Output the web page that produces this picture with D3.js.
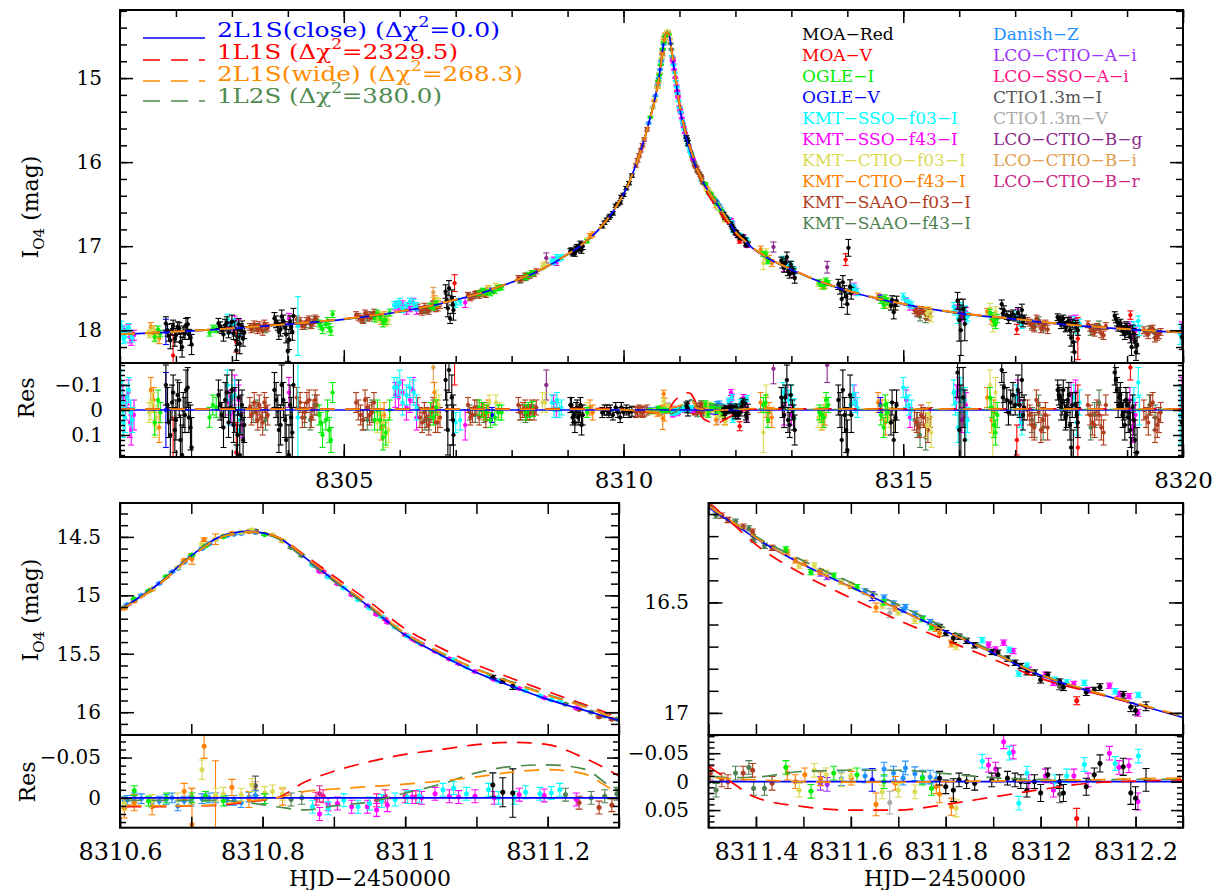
<!DOCTYPE html>
<html><head><meta charset="utf-8">
<script src="https://cdn.jsdelivr.net/npm/d3@7/dist/d3.min.js"></script>
<style>html,body{margin:0;padding:0;background:#fff}svg{display:block}</style>
</head><body>
<svg id="chart" width="1215" height="890" xmlns="http://www.w3.org/2000/svg"></svg>
<script>
// ================= DATA =================
const modelT = [8301,8302,8303,8304,8305,8306,8306.5,8307,8307.5,8308,8308.5,8309,8309.3,8309.6,8309.8,8310,8310.1,8310.2,8310.3,8310.4,8310.5,8310.6,8310.65,8310.7,8310.74,8310.78,8310.82,8310.86,8310.9,8310.95,8311,8311.05,8311.1,8311.15,8311.2,8311.25,8311.3,8311.35,8311.4,8311.5,8311.6,8311.7,8311.8,8311.9,8312,8312.1,8312.2,8312.3,8312.6,8313,8313.5,8314,8314.5,8315,8315.5,8316,8317,8318,8319,8320];
const model2L1Sclose = [18.05,18.02,17.98,17.93,17.87,17.78,17.72,17.64,17.55,17.43,17.29,17.10,16.96,16.77,16.60,16.38,16.24,16.07,15.88,15.66,15.41,15.12,14.92,14.66,14.50,14.453,14.50,14.68,14.87,15.10,15.34,15.51,15.66,15.78,15.89,15.98,16.07,16.14,16.21,16.33,16.43,16.53,16.63,16.73,16.83,16.90,16.96,17.02,17.15,17.28,17.42,17.53,17.62,17.69,17.75,17.80,17.87,17.94,17.99,18.03];
const model1L1S = [18.046,18.016,17.976,17.926,17.866,17.776,17.716,17.636,17.546,17.425,17.285,17.094,16.954,16.764,16.595,16.378,16.24,16.073,15.886,15.669,15.421,15.131,14.931,14.67,14.509,14.458,14.50,14.66,14.837,15.055,15.286,15.45,15.594,15.711,15.824,15.93,16.043,16.142,16.238,16.374,16.48,16.58,16.67,16.757,16.844,16.903,16.959,17.017,17.146,17.275,17.415,17.525,17.615,17.685,17.745,17.795,17.865,17.935,17.985,18.025];
const model2L1Swide = [18.047,18.017,17.977,17.927,17.867,17.777,17.717,17.637,17.547,17.427,17.287,17.097,16.957,16.768,16.598,16.379,16.24,16.072,15.884,15.666,15.418,15.129,14.93,14.67,14.508,14.457,14.50,14.672,14.859,15.086,15.323,15.489,15.634,15.748,15.855,15.95,16.062,16.135,16.207,16.33,16.431,16.531,16.63,16.729,16.828,16.897,16.955,17.014,17.145,17.276,17.416,17.526,17.616,17.686,17.746,17.796,17.866,17.936,17.986,18.026];
const model1L2S = [18.048,18.018,17.978,17.928,17.868,17.778,17.718,17.638,17.548,17.428,17.288,17.098,16.958,16.768,16.598,16.379,16.24,16.071,15.882,15.662,15.413,15.123,14.923,14.663,14.503,14.459,14.511,14.695,14.88,15.105,15.334,15.493,15.629,15.742,15.849,15.944,16.06,16.133,16.202,16.312,16.41,16.51,16.616,16.723,16.826,16.897,16.956,17.016,17.147,17.278,17.418,17.528,17.618,17.688,17.748,17.798,17.868,17.938,17.988,18.028];
const res2L1Sclose = [0,0,0,0,0,0,0,0,0,0,0,0,0,0,0,0,0,0,0,0,0,0,0,0,0,0,0,0,0,0,0,0,0,0,0,0,0,0,0,0,0,0,0,0,0,0,0,0,0,0,0,0,0,0,0,0,0,0,0,0];
const res1L1S = [-0.004,-0.004,-0.004,-0.004,-0.004,-0.004,-0.004,-0.004,-0.004,-0.005,-0.005,-0.006,-0.006,-0.006,-0.005,-0.002,0,0.003,0.006,0.009,0.011,0.011,0.011,0.010,0.009,0.005,0,-0.020,-0.033,-0.045,-0.054,-0.060,-0.066,-0.069,-0.066,-0.050,-0.027,0.002,0.028,0.044,0.050,0.050,0.040,0.027,0.014,0.003,-0.001,-0.003,-0.004,-0.005,-0.005,-0.005,-0.005,-0.005,-0.005,-0.005,-0.005,-0.005,-0.005,-0.005];
const res2L1Swide = [-0.003,-0.003,-0.003,-0.003,-0.003,-0.003,-0.003,-0.003,-0.003,-0.003,-0.003,-0.003,-0.003,-0.002,-0.002,-0.001,0,0.002,0.004,0.006,0.008,0.009,0.010,0.010,0.008,0.004,0,-0.008,-0.011,-0.014,-0.017,-0.021,-0.026,-0.032,-0.035,-0.030,-0.008,-0.005,-0.003,0,0.001,0.001,0,-0.001,-0.002,-0.003,-0.005,-0.006,-0.005,-0.004,-0.004,-0.004,-0.004,-0.004,-0.004,-0.004,-0.004,-0.004,-0.004,-0.004];
const res1L2S = [-0.002,-0.002,-0.002,-0.002,-0.002,-0.002,-0.002,-0.002,-0.002,-0.002,-0.002,-0.002,-0.002,-0.002,-0.002,-0.001,0,0.001,0.002,0.002,0.003,0.003,0.003,0.003,0.003,0.006,0.011,0.015,0.010,0.005,-0.006,-0.017,-0.031,-0.039,-0.041,-0.036,-0.010,-0.007,-0.008,-0.018,-0.020,-0.020,-0.014,-0.007,-0.004,-0.003,-0.004,-0.004,-0.003,-0.002,-0.002,-0.002,-0.002,-0.002,-0.002,-0.002,-0.002,-0.002,-0.002,-0.002];
const modelNames = ["2L1S(close)","1L1S","2L1S(wide)","1L2S"];
const modelDchi2 = ["0.0","2329.5","268.3","380.0"];
const modelColors = ["#0000ff","#ff0000","#ff8c00","#4f8a4f"];

const datasetNames = ["MOA−Red","MOA−V","OGLE−I","OGLE−V","KMT−SSO−f03−I","KMT−SSO−f43−I","KMT−CTIO−f03−I","KMT−CTIO−f43−I","KMT−SAAO−f03−I","KMT−SAAO−f43−I","Danish−Z","LCO−CTIO−A−i","LCO−SSO−A−i","CTIO1.3m−I","CTIO1.3m−V","LCO−CTIO−B−g","LCO−CTIO−B−i","LCO−CTIO−B−r"];
const datasetColors = ["#000000","#ff0000","#00ee00","#0000ff","#00ffff","#ff00ff","#dada55","#ff7f00","#b03c1e","#4e7f50","#1e90ff","#9b30ff","#ff1487","#555555","#aaaaaa","#8b2a8b","#e0a050","#cd2a88"];

// each point: [HJD-2450000, magnitude, error, residual]
const moaRed = [[8301.82,17.92,0.08,-0.10],[8301.87,18.07,0.06,0.05],[8301.93,17.99,0.07,-0.03],[8301.98,18.10,0.09,0.08],[8302.03,17.96,0.06,-0.06],[8302.08,18.14,0.10,0.12],[8302.13,18.02,0.07,0.00],[8302.18,17.94,0.08,-0.08],[8302.23,18.05,0.06,0.03],[8302.28,18.17,0.12,0.15],
[8301.85,18.00,0.07,-0.02],[8301.90,18.12,0.10,0.10],[8301.95,17.95,0.07,-0.07],[8302.00,18.06,0.08,0.04],[8302.06,17.98,0.07,-0.04],[8302.11,18.20,0.12,0.18],[8302.16,18.04,0.07,0.02],[8302.21,17.93,0.08,-0.09],[8302.26,18.09,0.09,0.07],
[8302.76,17.92,0.06,-0.06],[8302.82,17.99,0.05,0.02],[8302.88,17.94,0.07,-0.04],[8302.94,18.03,0.06,0.05],[8303.00,17.90,0.08,-0.08],[8303.05,17.98,0.09,0.00],[8303.10,18.08,0.10,0.10],[8303.14,18.16,0.12,0.18],[8303.18,17.95,0.06,-0.02],[8303.22,18.03,0.07,0.06],
[8302.79,17.96,0.06,-0.02],[8302.85,18.05,0.08,0.07],[8302.91,17.91,0.07,-0.07],[8302.97,17.97,0.06,-0.01],[8303.03,18.04,0.07,0.06],[8303.08,18.24,0.12,0.26],[8303.12,17.93,0.07,-0.05],[8303.16,18.00,0.08,0.02],[8303.20,18.10,0.09,0.12],
[8303.76,17.86,0.07,-0.08],[8303.82,17.94,0.06,0.00],[8303.87,17.99,0.08,0.06],[8303.92,17.89,0.07,-0.04],[8303.97,18.05,0.10,0.12],[8304.02,18.11,0.12,0.18],[8304.06,17.96,0.08,0.03],[8304.10,17.83,0.09,-0.10],
[8303.79,17.90,0.07,-0.04],[8303.84,18.02,0.09,0.08],[8303.89,17.84,0.08,-0.10],[8303.95,17.97,0.07,0.04],[8304.00,18.25,0.12,0.32],[8304.04,17.91,0.08,-0.02],[8304.08,18.02,0.10,0.09],
[8306.82,17.54,0.08,-0.12],[8306.86,17.74,0.10,0.08],[8306.90,17.86,0.06,0.20],[8306.93,17.61,0.09,-0.05],[8306.96,17.76,0.12,0.10],[8306.84,17.65,0.08,0.00],[8306.88,17.50,0.09,-0.16],[8306.95,17.70,0.10,0.04],
[8309.05,17.06,0.03,-0.02],[8309.09,17.085,0.03,0.03],[8309.13,17.08,0.04,0.05],[8309.17,17.01,0.03,-0.01],[8309.21,17.02,0.03,0.02],[8309.25,17.045,0.04,0.06],
[8309.07,17.05,0.03,-0.02],[8309.11,17.07,0.03,0.02],[8309.15,17.03,0.03,0.00],[8309.19,17.04,0.03,0.03],[8309.23,16.97,0.03,-0.02],[8309.27,17.00,0.04,0.02],
[8309.62,16.763,0.02,0.01],[8309.66,16.72,0.02,0.00],[8309.70,16.685,0.02,0.00],[8309.74,16.66,0.02,0.01],
[8309.76,16.64,0.02,0.00],[8309.81,16.61,0.02,0.02],[8309.86,16.52,0.02,-0.01],[8309.90,16.50,0.02,0.01],[8309.94,16.48,0.02,0.03],
[8309.96,16.414,0.02,-0.01],[8310.00,16.39,0.02,0.01],[8310.05,16.31,0.02,0.00],[8310.10,16.25,0.02,0.01],[8310.15,16.16,0.02,0.005],
[8311.123,15.70,0.015,-0.016],[8311.137,15.735,0.018,-0.007],[8311.151,15.775,0.03,-0.006],
[8311.787,16.611,0.012,-0.006],[8311.800,16.639,0.012,0.009],[8311.816,16.661,0.02,0.015],[8311.828,16.655,0.012,-0.003],[8311.844,16.674,0.012,0.000],[8311.861,16.694,0.012,0.003],[8311.897,16.724,0.012,-0.003],[8311.910,16.728,0.012,-0.012],[8311.930,16.754,0.012,-0.006],[8311.946,16.773,0.012,-0.003],[8311.958,16.788,0.012,0.000],[8311.971,16.816,0.012,0.015],[8311.987,16.817,0.012,0.000],[8312.000,16.85,0.015,0.020],[8312.015,16.828,0.012,-0.012],[8312.040,16.858,0.012,0.000],[8312.048,16.884,0.015,0.020],[8312.096,16.906,0.015,0.009],[8312.113,16.896,0.012,-0.012],[8312.125,16.883,0.015,-0.032],[8312.174,16.918,0.015,-0.026],[8312.190,16.974,0.02,0.020],[8312.200,16.989,0.02,0.029],[8312.222,16.97,0.02,-0.003],
[8312.82,17.17,0.04,-0.05],[8312.87,17.26,0.05,0.02],[8312.92,17.13,0.06,-0.12],[8312.97,17.33,0.05,0.06],[8313.02,17.285,0.04,0.00],[8313.06,17.38,0.06,0.08],
[8312.84,17.22,0.04,-0.01],[8312.89,17.20,0.05,-0.05],[8312.94,17.30,0.05,0.04],[8312.99,17.22,0.04,-0.06],[8313.04,17.32,0.05,0.03],
[8313.84,17.455,0.06,-0.04],[8313.90,17.63,0.10,0.12],[8313.95,17.54,0.07,0.02],[8314.00,17.69,0.12,0.16],[8314.02,17.02,0.10,-0.51],[8314.05,17.48,0.08,-0.06],
[8313.87,17.50,0.07,0.00],[8313.92,17.43,0.08,-0.08],[8313.98,17.60,0.09,0.08],[8314.07,17.56,0.07,0.02],
[8314.78,17.71,0.05,0.05],[8314.83,17.785,0.08,0.12],[8314.88,17.655,0.06,-0.02],[8314.80,17.64,0.05,-0.03],[8314.86,17.70,0.06,0.03],
[8315.97,17.65,0.10,-0.15],[8316.00,17.88,0.25,0.08],[8316.03,18.00,0.30,0.20],[8316.07,17.75,0.12,-0.05],[8316.10,17.925,0.20,0.12],
[8316.76,17.69,0.05,-0.16],[8316.80,17.77,0.06,-0.09],[8316.85,17.82,0.05,-0.04],[8316.92,17.83,0.05,-0.03],[8317.00,17.85,0.04,-0.02],[8317.05,17.79,0.06,-0.08],[8317.12,17.76,0.07,-0.12],[8317.16,17.87,0.05,-0.01],
[8316.78,17.80,0.05,-0.05],[8316.88,17.87,0.05,0.01],[8316.96,17.81,0.05,-0.06],[8317.08,17.86,0.05,-0.02],[8317.14,17.90,0.06,0.02],
[8317.76,17.845,0.04,-0.08],[8317.80,17.88,0.04,-0.05],[8317.84,17.90,0.05,-0.03],[8317.88,17.935,0.04,0.00],[8317.92,17.955,0.05,0.02],[8317.96,17.895,0.05,-0.06],[8318.00,18.09,0.10,0.15],[8318.04,18.14,0.12,0.20],[8318.08,17.935,0.05,-0.02],[8318.12,18.00,0.06,0.05],
[8317.78,17.87,0.04,-0.06],[8317.82,17.93,0.05,-0.01],[8317.86,17.86,0.04,-0.08],[8317.90,17.97,0.05,0.03],[8317.94,17.90,0.05,-0.04],[8317.98,18.00,0.06,0.06],[8318.02,17.92,0.05,-0.02],[8318.06,18.26,0.12,0.32],[8318.10,17.96,0.05,0.02],
[8318.78,17.83,0.05,-0.15],[8318.82,17.90,0.05,-0.08],[8318.86,17.93,0.04,-0.05],[8318.90,17.965,0.05,-0.02],[8318.94,17.985,0.04,0.00],[8318.98,17.95,0.05,-0.04],[8319.02,18.025,0.06,0.03],[8319.06,18.08,0.07,0.08],[8319.10,17.99,0.05,-0.01],[8319.14,18.13,0.08,0.12],[8319.18,18.18,0.10,0.17],
[8318.80,17.86,0.05,-0.12],[8318.84,17.96,0.05,-0.02],[8318.88,17.92,0.05,-0.06],[8318.92,18.01,0.05,0.02],[8318.96,18.05,0.06,0.06],[8319.00,17.97,0.05,-0.02],[8319.04,18.00,0.05,0.01],[8319.08,18.20,0.10,0.21],[8319.12,18.04,0.06,0.04],[8319.16,18.26,0.10,0.27],
[8319.98,18.08,0.15,0.05]];
const moaV = [[8301.95,18.30,0.25,0.28],[8303.08,18.14,0.12,0.17],[8306.98,17.44,0.10,-0.20],[8312.076,16.945,0.018,0.065],[8313.97,17.16,0.07,-0.36],[8317.03,17.99,0.06,0.12],[8318.12,18.10,0.25,0.15],[8319.06,17.82,0.05,-0.17]];
const ogleI = [[8301.68,17.99,0.04,-0.04],[8301.72,18.04,0.04,0.01],[8301.62,18.08,0.05,0.05],[8302.60,18.03,0.04,0.03],[8302.66,17.98,0.04,-0.02],[8302.72,17.99,0.04,-0.01],[8304.56,17.92,0.04,0.02],[8304.59,17.95,0.04,0.05],[8304.62,17.99,0.05,0.10],[8304.68,17.93,0.04,0.04],[8304.71,17.89,0.04,0.00],[8304.74,17.97,0.05,0.08],[8304.77,18.01,0.05,0.12],[8304.80,17.81,0.04,-0.07],[8305.55,17.86,0.04,0.04],[8305.60,17.80,0.04,0.00],[8305.65,17.84,0.04,0.04],[8305.70,17.91,0.05,0.11],[8305.75,17.88,0.05,0.09],[8305.82,17.79,0.04,0.00],[8306.55,17.71,0.03,0.00],[8306.60,17.73,0.03,0.03],[8306.65,17.68,0.03,-0.01],[8307.42,17.56,0.03,-0.01],[8307.48,17.53,0.03,0.00],[8307.55,17.55,0.03,0.01],[8307.62,17.56,0.03,0.04],[8307.70,17.53,0.03,0.03],[8307.76,17.50,0.03,0.01],[8307.82,17.49,0.03,0.01],[8308.25,17.37,0.03,0.01],[8308.30,17.34,0.03,0.00],[8308.38,17.32,0.03,-0.004],[8309.35,16.94,0.02,0.01],[8310.48,15.465,0.01,0.005],
[8310.620,15.03,0.006,-0.009],[8310.640,14.964,0.006,0.004],[8310.665,14.84,0.006,0.000],[8310.701,14.655,0.006,0.000],[8310.720,14.578,0.006,-0.002],[8310.745,14.50,0.006,0.004],[8310.803,14.48,0.006,0.001],
[8311.463,16.26,0.012,-0.025],[8311.516,16.363,0.012,0.017],[8311.564,16.379,0.012,-0.015],[8311.613,16.431,0.012,-0.012],[8311.670,16.50,0.012,0.000],[8311.751,16.575,0.012,-0.006],[8311.770,16.612,0.012,0.012],
[8312.50,17.09,0.03,-0.02],[8312.54,17.10,0.03,-0.03],[8312.58,17.18,0.03,0.04],[8313.50,17.43,0.03,0.01],[8313.54,17.45,0.03,0.02],[8313.58,17.47,0.04,0.03],[8313.62,17.41,0.03,-0.04],[8313.66,17.44,0.03,-0.02],[8314.60,17.64,0.04,0.02],[8314.65,17.70,0.04,0.07],[8314.68,17.62,0.04,-0.02],[8314.72,17.66,0.04,0.01],[8316.55,17.79,0.04,-0.05],[8316.58,17.83,0.04,-0.01],[8316.62,17.90,0.05,0.06],[8316.65,17.93,0.05,0.09],[8316.68,17.86,0.05,0.02]];
const ogleV = [[8301.82,18.02,0.15,0.00],[8307.65,17.53,0.03,0.02],[8311.645,16.472,0.02,-0.003],[8314.59,17.61,0.03,-0.02]];
const kmtSSOf03 = [[8301.02,17.94,0.05,-0.11],[8301.04,18.02,0.05,-0.03],[8301.06,18.10,0.06,0.05],[8301.09,18.08,0.06,0.03],[8301.12,18.00,0.05,-0.05],[8301.16,17.97,0.05,-0.08],[8301.19,18.05,0.05,0.01],[8301.22,18.09,0.05,0.04],
[8302.92,17.87,0.06,-0.10],[8302.96,17.99,0.05,0.01],[8303.00,17.93,0.05,-0.05],[8303.05,17.92,0.06,-0.06],[8303.10,18.05,0.06,0.08],[8303.14,18.01,0.05,0.04],[8304.18,17.95,0.35,0.03],
[8305.90,17.70,0.04,-0.09],[8305.95,17.69,0.04,-0.09],[8306.00,17.67,0.05,-0.11],[8306.05,17.74,0.05,-0.03],[8306.12,17.71,0.04,-0.06],[8306.18,17.66,0.04,-0.09],[8306.25,17.68,0.05,-0.07],[8306.30,17.72,0.05,-0.01],[8307.00,17.69,0.04,0.05],[8307.08,17.66,0.04,0.04],[8308.72,17.18,0.03,-0.03],[8308.76,17.19,0.03,0.00],[8308.81,17.13,0.03,-0.04],[8308.85,17.15,0.03,0.00],[8308.89,17.13,0.03,-0.01],
[8310.870,14.74,0.008,0.011],[8310.892,14.843,0.008,0.013],[8310.914,14.937,0.008,0.003],[8310.934,15.037,0.008,0.011],[8310.950,15.107,0.008,0.007],[8310.967,15.184,0.008,0.004],[8310.986,15.272,0.008,0.002],[8311.003,15.349,0.008,-0.001],[8311.020,15.406,0.008,-0.002],[8311.053,15.51,0.008,-0.010],[8311.068,15.552,0.008,-0.012],[8311.086,15.613,0.008,-0.005],[8311.117,15.69,0.008,-0.010],[8311.131,15.734,0.008,0.000],[8311.153,15.787,0.008,0.000],[8311.169,15.815,0.008,-0.007],[8311.189,15.861,0.008,-0.005],[8311.205,15.894,0.008,-0.006],[8311.217,15.91,0.008,-0.010],
[8311.877,16.671,0.012,-0.036],[8311.934,16.714,0.012,-0.050],[8311.954,16.822,0.012,0.038],[8311.971,16.786,0.012,-0.015],[8312.030,16.85,0.012,0.000],[8312.055,16.862,0.012,-0.010],[8312.092,16.864,0.012,-0.030],[8312.157,16.902,0.012,-0.032],[8312.206,16.919,0.012,-0.045],
[8312.85,17.16,0.04,-0.07],[8312.88,17.19,0.04,-0.05],[8312.95,17.23,0.04,-0.04],[8313.00,17.22,0.04,-0.06],[8313.05,17.29,0.04,-0.005],[8314.06,17.52,0.04,-0.02],[8314.10,17.49,0.04,-0.06],[8314.14,17.51,0.04,-0.03],[8314.18,17.55,0.04,-0.01],[8315.00,17.60,0.04,-0.09],[8315.05,17.65,0.04,-0.05],[8315.10,17.68,0.04,-0.02],[8315.15,17.70,0.04,0.00],[8315.90,17.72,0.05,-0.07],[8315.93,17.77,0.05,-0.03],[8315.98,17.86,0.06,0.07],[8316.03,17.72,0.05,-0.08],[8316.10,17.76,0.05,-0.04],[8316.12,17.86,0.06,0.06],[8316.15,17.84,0.05,0.04],[8317.02,17.82,0.05,-0.05],[8317.08,17.90,0.05,0.02],[8317.12,17.93,0.05,0.05],[8318.05,17.89,0.05,-0.05],[8318.10,17.99,0.05,0.05],[8318.15,17.92,0.05,-0.03],[8319.12,17.95,0.05,-0.04],[8319.20,17.89,0.06,-0.11],[8319.22,18.00,0.06,0.00],[8319.95,18.05,0.12,0.02]];
const kmtSSOf43 = [[8301.05,18.00,0.05,-0.05],[8301.10,18.03,0.05,-0.01],[8301.15,17.98,0.05,-0.07],[8301.18,18.09,0.06,0.05],[8301.20,18.12,0.06,0.08],[8301.25,18.06,0.06,0.02],
[8302.95,17.95,0.05,-0.03],[8303.00,17.99,0.05,0.01],[8303.05,17.89,0.06,-0.08],[8303.12,17.93,0.06,-0.04],[8303.18,18.02,0.05,0.06],[8304.02,17.86,0.06,-0.07],
[8305.92,17.71,0.05,-0.06],[8305.98,17.73,0.05,-0.05],[8306.05,17.70,0.05,-0.07],[8306.12,17.76,0.05,-0.01],[8306.18,17.73,0.05,-0.04],[8306.24,17.67,0.05,-0.08],[8306.30,17.76,0.05,0.03],[8307.17,17.67,0.06,0.06],[8308.75,17.16,0.03,-0.03],[8308.80,17.20,0.03,0.00],
[8310.880,14.795,0.008,0.020],[8310.892,14.838,0.008,0.008],[8310.905,14.90,0.008,0.007],[8310.925,14.995,0.008,0.011],[8310.947,15.09,0.008,0.011],[8310.960,15.163,0.008,0.015],[8310.975,15.23,0.008,0.009],[8311.010,15.373,0.008,-0.001],[8311.023,15.418,0.008,0.000],[8311.042,15.478,0.008,-0.005],[8311.062,15.544,0.008,-0.002],[8311.075,15.583,0.008,-0.001],[8311.098,15.652,0.008,-0.002],[8311.125,15.72,0.008,0.000],[8311.160,15.798,0.008,-0.004],[8311.195,15.876,0.008,-0.003],[8311.240,15.964,0.008,0.002],
[8311.890,16.691,0.012,-0.029],[8311.905,16.713,0.012,-0.022],[8311.922,16.682,0.012,-0.070],[8311.942,16.72,0.012,-0.052],[8311.975,16.805,0.012,0.000],[8312.010,16.827,0.012,-0.010],[8312.027,16.864,0.012,0.015],[8312.070,16.869,0.012,-0.010],[8312.100,16.897,0.012,-0.003],[8312.145,16.877,0.012,-0.050],[8312.165,16.914,0.012,-0.025],[8312.186,16.924,0.012,-0.028],[8312.205,17.00,0.015,0.035],
[8312.87,17.26,0.04,0.02],[8312.90,17.21,0.04,-0.05],[8313.00,17.30,0.04,0.02],[8314.12,17.48,0.04,-0.06],[8314.15,17.54,0.04,-0.03],[8315.05,17.66,0.04,-0.04],[8315.12,17.72,0.04,0.03],[8315.95,17.75,0.05,-0.05],[8316.00,17.72,0.05,-0.08],[8316.05,17.84,0.05,0.04],[8316.12,17.78,0.05,-0.02],[8317.05,17.80,0.05,-0.07],[8317.10,17.88,0.05,0.01],[8318.00,17.88,0.05,-0.06],[8318.08,17.87,0.05,-0.07],[8319.05,17.95,0.05,-0.04],[8319.10,18.06,0.06,0.07],[8319.15,18.01,0.05,0.02],[8319.98,17.98,0.08,-0.05]];
const kmtCTIOf03 = [[8301.52,18.05,0.04,0.01],[8301.55,18.03,0.04,0.00],[8301.58,18.00,0.04,-0.03],[8301.62,18.09,0.05,0.06],[8301.65,18.06,0.05,0.03],[8305.60,17.87,0.04,0.05],[8305.65,17.82,0.04,0.01],[8305.70,17.86,0.04,0.05],[8305.75,17.90,0.05,0.10],[8305.80,17.88,0.05,0.08],[8306.65,17.65,0.04,-0.04],[8306.70,17.66,0.04,-0.02],[8307.60,17.50,0.03,-0.03],[8307.65,17.54,0.03,0.02],[8307.72,17.47,0.03,-0.03],[8307.78,17.49,0.03,0.00],[8308.55,17.24,0.04,-0.03],[8308.60,17.22,0.04,-0.03],[8309.35,16.93,0.03,0.00],[8310.52,15.355,0.01,0.003],[8310.56,15.245,0.01,0.005],
[8310.606,15.103,0.008,0.007],[8310.645,14.944,0.008,0.004],[8310.681,14.761,0.008,0.002],[8310.715,14.565,0.012,-0.035],[8310.734,14.52,0.008,-0.004],[8310.745,14.49,0.008,-0.005],[8310.770,14.461,0.008,-0.004],[8310.785,14.44,0.008,-0.016],[8310.803,14.474,0.008,-0.006],[8310.814,14.482,0.008,-0.008],[8310.828,14.531,0.008,-0.005],
[8311.491,16.334,0.012,0.015],[8311.523,16.333,0.012,-0.020],[8311.548,16.366,0.012,-0.012],[8311.580,16.407,0.012,-0.003],[8311.600,16.42,0.012,-0.010],[8311.666,16.514,0.012,0.018],[8311.700,16.545,0.012,0.015],[8311.735,16.583,0.012,0.018],[8311.822,16.699,0.015,0.047],
[8312.50,17.20,0.08,0.09],[8312.55,17.07,0.04,-0.06],[8313.48,17.44,0.04,0.03],[8313.53,17.47,0.04,0.04],[8313.60,17.43,0.04,-0.01],[8314.70,17.65,0.04,0.00],[8314.75,17.69,0.04,0.03],[8314.85,17.71,0.05,0.04],[8315.42,17.80,0.05,0.06],[8315.46,17.77,0.05,0.02],[8315.50,17.84,0.06,0.09],[8316.55,17.74,0.06,-0.10],[8316.60,17.92,0.10,0.09],[8316.65,17.78,0.06,-0.07]];
const kmtCTIOf43 = [[8301.55,17.96,0.05,-0.08],[8301.60,18.00,0.05,-0.04],[8301.70,18.10,0.06,0.07],[8305.67,17.88,0.05,0.07],[8305.72,17.83,0.05,0.02],[8306.62,17.63,0.04,-0.07],[8306.68,17.69,0.04,0.00],[8307.50,17.56,0.03,0.01],[8307.58,17.50,0.03,-0.01],[8309.40,16.88,0.03,-0.01],[8309.45,16.86,0.03,0.01],[8310.55,15.27,0.01,0.005],
[8310.606,15.11,0.012,0.013],[8310.620,15.05,0.01,0.006],[8310.645,14.95,0.01,0.011],[8310.690,14.70,0.01,-0.008],[8310.701,14.69,0.045,0.033],[8310.718,14.524,0.015,-0.064],[8310.734,14.52,0.045,-0.001],[8310.757,14.47,0.01,-0.013],[8310.781,14.455,0.01,0.002],[8310.828,14.535,0.01,-0.001],
[8311.466,16.274,0.012,-0.015],[8311.483,16.31,0.012,0.000],[8311.503,16.321,0.012,-0.012],[8311.536,16.361,0.012,-0.005],[8311.601,16.425,0.012,-0.006],[8311.653,16.523,0.02,0.040],[8311.694,16.527,0.012,0.003],[8311.780,16.619,0.012,0.009],[8311.787,16.639,0.015,0.022],[8311.812,16.686,0.015,0.044],
[8312.45,17.04,0.04,-0.03],[8312.55,17.12,0.04,-0.01],[8312.60,17.15,0.04,0.01],[8312.65,17.20,0.04,0.03],[8313.55,17.47,0.04,0.04],[8313.60,17.46,0.04,0.02],[8314.55,17.60,0.04,-0.03],[8314.62,17.64,0.04,0.00],[8314.68,17.69,0.05,0.05],[8316.50,17.78,0.04,-0.05],[8316.58,17.88,0.05,0.04],[8316.62,17.86,0.05,0.01]];
const kmtSAAOf03 = [[8303.32,17.96,0.04,-0.01],[8303.35,17.99,0.04,0.02],[8303.40,17.93,0.04,-0.03],[8303.43,17.97,0.04,0.01],[8303.46,18.00,0.04,0.04],[8303.49,17.94,0.04,-0.02],[8303.52,17.98,0.04,0.03],[8303.55,18.01,0.05,0.05],[8303.58,17.92,0.04,-0.03],[8303.61,17.95,0.04,-0.01],[8303.64,17.97,0.04,0.02],
[8304.16,17.87,0.04,-0.05],[8304.19,17.92,0.04,-0.01],[8304.22,17.89,0.04,-0.03],[8304.26,17.95,0.04,0.03],[8304.30,17.93,0.04,0.01],[8304.34,17.89,0.04,-0.03],[8304.38,17.87,0.04,-0.04],[8304.42,17.94,0.04,0.03],[8304.45,17.91,0.04,0.00],[8304.49,17.86,0.04,-0.04],[8304.52,17.88,0.04,-0.02],
[8305.22,17.82,0.04,-0.03],[8305.26,17.84,0.04,0.00],[8305.30,17.86,0.04,0.02],[8305.34,17.88,0.04,0.04],[8305.38,17.80,0.04,-0.04],[8305.42,17.82,0.04,-0.01],[8305.46,17.85,0.04,0.02],[8305.50,17.83,0.04,0.01],[8305.54,17.79,0.04,-0.03],
[8306.32,17.73,0.04,-0.01],[8306.36,17.76,0.04,0.03],[8306.40,17.78,0.04,0.05],[8306.44,17.72,0.04,0.01],[8306.48,17.75,0.04,0.03],[8306.52,17.77,0.04,0.06],[8306.56,17.72,0.04,0.01],[8306.60,17.69,0.04,-0.01],[8306.64,17.74,0.04,0.05],[8306.68,17.73,0.04,0.05],[8306.72,17.70,0.04,0.03],
[8307.22,17.58,0.03,-0.02],[8307.26,17.62,0.03,0.03],[8307.30,17.60,0.03,0.02],[8307.34,17.57,0.03,-0.01],[8307.38,17.56,0.03,-0.01],[8307.42,17.59,0.03,0.03],[8307.46,17.55,0.03,0.00],[8307.50,17.54,0.03,0.00],[8307.54,17.58,0.03,0.04],[8307.58,17.53,0.03,0.00],
[8308.12,17.38,0.03,-0.02],[8308.16,17.40,0.03,0.01],[8308.20,17.38,0.03,0.00],[8308.24,17.35,0.03,-0.01],[8308.28,17.36,0.03,0.01],[8308.32,17.35,0.03,0.01],[8308.36,17.32,0.03,-0.01],[8308.40,17.33,0.03,0.01],[8308.44,17.30,0.03,-0.01],
[8310.22,16.04,0.02,0.01],[8310.25,15.98,0.02,0.005],[8310.28,15.92,0.02,0.00],[8310.31,15.86,0.02,0.005],[8310.34,15.80,0.02,0.01],[8310.37,15.73,0.02,0.005],[8310.42,15.61,0.02,0.00],
[8311.244,15.976,0.008,0.006],[8311.272,16.04,0.008,0.012],[8311.290,16.06,0.008,0.009],
[8311.304,16.061,0.012,-0.015],[8311.328,16.107,0.012,-0.003],[8311.341,16.127,0.012,0.000],[8311.373,16.157,0.012,-0.015],[8311.393,16.18,0.012,-0.020],[8311.434,16.253,0.012,0.003],
[8315.20,17.76,0.04,0.04],[8315.24,17.78,0.04,0.05],[8315.28,17.80,0.04,0.07],[8315.32,17.76,0.04,0.02],[8315.36,17.77,0.04,0.03],[8315.40,17.81,0.05,0.06],[8315.44,17.83,0.05,0.08],[8315.48,17.79,0.04,0.03],
[8317.22,17.89,0.04,0.00],[8317.26,17.91,0.04,0.02],[8317.30,17.95,0.05,0.06],[8317.34,17.97,0.05,0.07],[8317.38,17.86,0.04,-0.04],[8317.42,17.92,0.04,0.01],[8317.46,17.98,0.05,0.08],[8317.50,17.95,0.05,0.04],[8317.54,17.93,0.05,0.02],[8317.58,17.99,0.05,0.07],
[8318.30,17.93,0.04,-0.02],[8318.34,17.97,0.04,0.02],[8318.38,18.00,0.05,0.05],[8318.42,18.02,0.05,0.06],[8318.46,17.96,0.04,0.00],[8318.50,17.99,0.04,0.02],[8318.54,18.04,0.05,0.07],[8318.58,18.06,0.05,0.09],[8318.62,17.95,0.04,-0.02],
[8319.30,18.00,0.04,0.00],[8319.34,18.03,0.04,0.03],[8319.38,18.05,0.05,0.05],[8319.42,17.99,0.04,-0.02],[8319.46,17.98,0.04,-0.03],[8319.50,18.09,0.05,0.08],[8319.54,18.07,0.05,0.06],[8319.57,18.05,0.05,0.04],[8319.60,18.02,0.04,0.01]];
const kmtSAAOf43 = [[8303.38,17.97,0.04,0.01],[8303.45,17.96,0.04,0.00],[8303.60,17.99,0.04,0.04],[8304.30,17.95,0.04,0.03],[8304.40,17.93,0.04,0.04],[8304.48,17.88,0.04,-0.02],[8305.35,17.87,0.04,0.04],[8305.42,17.85,0.04,0.04],[8305.50,17.82,0.04,0.00],[8306.45,17.76,0.04,0.04],[8306.52,17.74,0.04,0.04],[8306.60,17.70,0.04,0.00],[8307.25,17.60,0.03,0.01],[8307.35,17.59,0.03,0.02],[8307.50,17.57,0.03,0.02],[8308.15,17.41,0.03,0.01],[8308.25,17.38,0.03,0.02],[8308.32,17.35,0.03,0.01],
[8310.840,14.59,0.008,0.002],[8310.855,14.66,0.008,0.000],[8311.225,15.931,0.008,-0.004],[8311.261,16.00,0.008,0.000],[8311.280,16.032,0.008,-0.002],[8311.297,16.06,0.008,-0.005],
[8311.316,16.107,0.012,0.015],[8311.357,16.135,0.012,-0.015],[8311.385,16.165,0.012,-0.025],[8311.395,16.215,0.012,0.012],[8311.418,16.244,0.012,0.012],
[8315.25,17.79,0.05,0.06],[8315.30,17.84,0.05,0.10],[8315.40,17.86,0.05,0.11],[8317.30,17.93,0.05,0.04],[8317.35,17.95,0.05,0.06],[8317.42,17.88,0.04,-0.02],[8317.50,17.97,0.05,0.07],[8318.35,18.01,0.05,0.07],[8318.42,17.98,0.05,0.02],[8318.50,17.94,0.05,-0.03],[8319.40,17.99,0.04,-0.02],[8319.50,18.04,0.05,0.03]];
const danishZ = [[8310.45,15.535,0.01,0.000],[8310.52,15.35,0.01,0.000],[8310.57,15.21,0.01,0.000],
[8310.606,15.10,0.006,0.004],[8310.610,15.08,0.006,0.003],[8310.620,15.04,0.006,0.000],[8310.630,15.00,0.006,0.001],[8310.645,14.946,0.006,0.006],[8310.655,14.898,0.006,0.004],[8310.665,14.842,0.006,0.002],[8310.673,14.80,0.006,0.000],[8310.681,14.77,0.006,0.010],[8310.690,14.716,0.006,0.004],[8310.700,14.664,0.006,0.004],[8310.715,14.60,0.006,0.001],[8310.725,14.56,0.006,0.000],[8310.734,14.524,0.006,0.000],[8310.750,14.49,0.006,0.003],[8310.760,14.478,0.006,0.003],[8310.770,14.471,0.006,0.006],[8310.781,14.452,0.006,-0.001],[8310.790,14.462,0.006,-0.003],[8310.803,14.48,0.006,0.001],
[8311.580,16.405,0.012,-0.005],[8311.630,16.45,0.012,-0.010],[8311.670,16.478,0.012,-0.022],[8311.690,16.505,0.012,-0.015],[8311.710,16.534,0.012,-0.006],[8311.715,16.521,0.012,-0.024],[8311.735,16.551,0.012,-0.014],[8311.751,16.573,0.012,-0.008],[8311.767,16.589,0.012,-0.008],[8311.780,16.605,0.012,-0.005]];
const lcoCTIOAi = [[8311.536,16.369,0.012,0.003],[8311.550,16.385,0.012,0.005]];
const lcoSSOAi = [[8310.875,14.75,0.008,0.001],[8310.885,14.797,0.008,-0.002],[8310.960,15.151,0.008,0.003],[8310.972,15.204,0.008,-0.002],[8311.000,15.338,0.008,-0.002],[8311.015,15.39,0.008,-0.001]];
const ctio13I = [[8310.790,14.45,0.012,-0.015],[8312.040,16.88,0.015,0.022]];
const ctio13V = [[8311.682,16.549,0.02,0.037]];
const lcoCTIOBg = [[8308.62,17.14,0.06,-0.10],[8312.68,17.01,0.06,-0.165],[8313.64,17.25,0.07,-0.18]];
const lcoCTIOBi = [[8306.60,17.55,0.06,-0.17],[8310.700,14.658,0.01,-0.002],[8310.790,14.455,0.01,-0.010]];
const lcoCTIOBr = [[8310.880,14.77,0.01,-0.005]];
const datasetValues = [moaRed,moaV,ogleI,ogleV,kmtSSOf03,kmtSSOf43,kmtCTIOf03,kmtCTIOf43,kmtSAAOf03,kmtSAAOf43,danishZ,lcoCTIOAi,lcoSSOAi,ctio13I,ctio13V,lcoCTIOBg,lcoCTIOBi,lcoCTIOBr];

const mainXTicks = [8305,8310,8315,8320];
const mainYTicks = [15,16,17,18];
const mainResTicks = [-0.1,0,0.1];
const blXTicks = [8310.6,8310.8,8311,8311.2];
const blYTicks = [14.5,15,15.5,16];
const blResTicks = [-0.05,0];
const brXTicks = [8311.4,8311.6,8311.8,8312,8312.2];
const brYTicks = [16.5,17];
const brResTicks = [-0.05,0,0.05];

// ================= DRAWING =================
const FONT = '"DejaVu Serif","Liberation Serif",serif';
const svg = d3.select("#chart");
svg.append("rect").attr("width",1215).attr("height",890).attr("fill","#fff");
const defs = svg.append("defs");

const panels = [
  {id:"pm", x0:120,  x1:1183, y0:10,  y1:363,   xd:[8301,8320],     yd:[14.19,18.39],  field:1, r:1.8, cap:3},
  {id:"pr", x0:120,  x1:1183, y0:363, y1:457,   xd:[8301,8320],     yd:[-0.188,0.188], field:3, r:1.8, cap:3},
  {id:"lm", x0:120,  x1:619,  y0:503, y1:735,   xd:[8310.6,8311.3], yd:[14.21,16.195], field:1, r:2.2, cap:3.5},
  {id:"lr", x0:120,  x1:619,  y0:735, y1:827.7, xd:[8310.6,8311.3], yd:[-0.078,0.037], field:3, r:2.2, cap:3.5},
  {id:"rm", x0:708.5,x1:1183, y0:503, y1:735,   xd:[8311.3,8312.3], yd:[16.05,17.1],   field:1, r:2.2, cap:3.5},
  {id:"rr", x0:708.5,x1:1183, y0:735, y1:827.7, xd:[8311.3,8312.3], yd:[-0.082,0.081], field:3, r:2.2, cap:3.5}
];
panels.forEach(p => {
  p.x = d3.scaleLinear().domain(p.xd).range([p.x0,p.x1]);
  p.y = d3.scaleLinear().domain(p.yd).range([p.y0,p.y1]);
  defs.append("clipPath").attr("id","clip-"+p.id).append("rect")
    .attr("x",p.x0).attr("y",p.y0).attr("width",p.x1-p.x0).attr("height",p.y1-p.y0);
});

function drawData(p){
  const g = svg.append("g").attr("clip-path",`url(#clip-${p.id})`);
  for (let k = datasetValues.length-1; k >= 0; k--) {
    const pts = datasetValues[k].filter(d => d[0] >= p.xd[0]-0.05 && d[0] <= p.xd[1]+0.05);
    const col = datasetColors[k];
    const gg = g.append("g").attr("stroke",col).attr("fill",col).attr("stroke-width",1.1);
    const f = p.field;
    gg.selectAll("line.e").data(pts).join("line").attr("class","e")
      .attr("x1",d=>p.x(d[0])).attr("x2",d=>p.x(d[0]))
      .attr("y1",d=>p.y(d[f]-d[2])).attr("y2",d=>p.y(d[f]+d[2]));
    gg.selectAll("line.ct").data(pts).join("line").attr("class","ct")
      .attr("x1",d=>p.x(d[0])-p.cap).attr("x2",d=>p.x(d[0])+p.cap)
      .attr("y1",d=>p.y(d[f]-d[2])).attr("y2",d=>p.y(d[f]-d[2]));
    gg.selectAll("line.cb").data(pts).join("line").attr("class","cb")
      .attr("x1",d=>p.x(d[0])-p.cap).attr("x2",d=>p.x(d[0])+p.cap)
      .attr("y1",d=>p.y(d[f]+d[2])).attr("y2",d=>p.y(d[f]+d[2]));
    gg.selectAll("circle").data(pts).join("circle")
      .attr("cx",d=>p.x(d[0])).attr("cy",d=>p.y(d[f])).attr("r",p.r).attr("stroke-width",0.8);
  }
}
const modelMags = [model2L1Sclose, model1L1S, model2L1Swide, model1L2S];
const modelRes = [res2L1Sclose, res1L1S, res2L1Swide, res1L2S];
const modelDash = [null,"15,10","15,10","15,10"];
function drawModels(p){
  const g = svg.append("g").attr("clip-path",`url(#clip-${p.id})`).attr("fill","none");
  [0,1,3,2].forEach(m => {
    const vals = p.field === 1 ? modelMags[m] : modelRes[m];
    const line = d3.line().x(t => p.x(t)).y((t,i) => p.y(vals[i])).curve(d3.curveMonotoneX);
    g.append("path").attr("d", line(modelT)).attr("stroke", modelColors[m])
      .attr("stroke-width", 1.7).attr("stroke-dasharray", modelDash[m]);
  });
}
panels.forEach(p => { drawData(p); drawModels(p); });

// axes
const fmt = d => d < 0 ? "\u2212" + Math.abs(d) : String(d);
function ax(fn, scale, values, size, tf, labels, fs, pad){
  const a = fn(scale).tickValues(values).tickSize(-size).tickSizeOuter(0).tickPadding(pad||0)
    .tickFormat(labels ? fmt : "");
  const s = svg.append("g").attr("transform", tf).call(a);
  s.select(".domain").remove();
  s.selectAll(".tick line").attr("stroke","#000").attr("stroke-width",1.5);
  s.selectAll(".tick text").attr("font-family",FONT).attr("font-size",fs||20).attr("fill","#000");
  return s;
}
function frame(p){
  svg.append("rect").attr("x",p.x0).attr("y",p.y0).attr("width",p.x1-p.x0).attr("height",p.y1-p.y0)
    .attr("fill","none").attr("stroke","#000").attr("stroke-width",2);
}
const [pm,pr,lm,lr,rm,rr] = panels;
const rng = (a,b,s) => d3.range(Math.round((b-a)/s)+1).map(i => +(a+i*s).toFixed(4));

ax(d3.axisTop, pm.x, rng(8301,8320,1), 7, `translate(0,${pm.y0})`);
ax(d3.axisTop, pm.x, mainXTicks, 13, `translate(0,${pm.y0})`);
ax(d3.axisBottom, pm.x, rng(8301,8320,1), 7, `translate(0,${pm.y1})`);
ax(d3.axisBottom, pm.x, mainXTicks, 13, `translate(0,${pm.y1})`);
ax(d3.axisLeft, pm.y, rng(14.2,18.2,0.2), 7, `translate(${pm.x0},0)`);
ax(d3.axisLeft, pm.y, mainYTicks, 13, `translate(${pm.x0},0)`, true, 20, 18);
ax(d3.axisRight, pm.y, rng(14.2,18.2,0.2), 7, `translate(${pm.x1},0)`);
ax(d3.axisRight, pm.y, mainYTicks, 13, `translate(${pm.x1},0)`);
ax(d3.axisBottom, pr.x, rng(8301,8320,1), 7, `translate(0,${pr.y1})`);
ax(d3.axisBottom, pr.x, mainXTicks, 13, `translate(0,${pr.y1})`, true, 23, 15);
ax(d3.axisLeft, pr.y, rng(-0.18,0.18,0.02), 5, `translate(${pr.x0},0)`);
ax(d3.axisLeft, pr.y, mainResTicks, 10, `translate(${pr.x0},0)`, true, 20, 17);
ax(d3.axisRight, pr.y, rng(-0.18,0.18,0.02), 5, `translate(${pr.x1},0)`);
ax(d3.axisRight, pr.y, mainResTicks, 10, `translate(${pr.x1},0)`);
ax(d3.axisTop, lm.x, rng(8310.6,8311.3,0.1), 11, `translate(0,${lm.y0})`);
ax(d3.axisBottom, lm.x, rng(8310.6,8311.3,0.1), 11, `translate(0,${lm.y1})`);
ax(d3.axisLeft, lm.y, rng(14.3,16.1,0.1), 8, `translate(${lm.x0},0)`);
ax(d3.axisLeft, lm.y, blYTicks, 14, `translate(${lm.x0},0)`, true, 20, 19);
ax(d3.axisRight, lm.y, rng(14.3,16.1,0.1), 8, `translate(${lm.x1},0)`);
ax(d3.axisRight, lm.y, blYTicks, 14, `translate(${lm.x1},0)`);
ax(d3.axisBottom, lr.x, rng(8310.6,8311.3,0.1), 11, `translate(0,${lr.y1})`);
ax(d3.axisBottom, lr.x, blXTicks, 11, `translate(0,${lr.y1})`, true, 24, 15);
ax(d3.axisLeft, lr.y, rng(-0.07,0.03,0.01), 6, `translate(${lr.x0},0)`);
ax(d3.axisLeft, lr.y, blResTicks, 12, `translate(${lr.x0},0)`, true, 20, 19);
ax(d3.axisRight, lr.y, rng(-0.07,0.03,0.01), 6, `translate(${lr.x1},0)`);
ax(d3.axisRight, lr.y, blResTicks, 12, `translate(${lr.x1},0)`);
ax(d3.axisTop, rm.x, rng(8311.3,8312.3,0.1), 11, `translate(0,${rm.y0})`);
ax(d3.axisBottom, rm.x, rng(8311.3,8312.3,0.1), 11, `translate(0,${rm.y1})`);
ax(d3.axisLeft, rm.y, rng(16.1,17.1,0.1), 10, `translate(${rm.x0},0)`);
ax(d3.axisLeft, rm.y, brYTicks, 14, `translate(${rm.x0},0)`, true, 20, 19.5);
ax(d3.axisRight, rm.y, rng(16.1,17.1,0.1), 8, `translate(${rm.x1},0)`);
ax(d3.axisRight, rm.y, brYTicks, 14, `translate(${rm.x1},0)`);
ax(d3.axisBottom, rr.x, rng(8311.3,8312.3,0.1), 11, `translate(0,${rr.y1})`);
ax(d3.axisBottom, rr.x, brXTicks, 11, `translate(0,${rr.y1})`, true, 24, 15);
ax(d3.axisLeft, rr.y, rng(-0.08,0.08,0.01), 6, `translate(${rr.x0},0)`);
ax(d3.axisLeft, rr.y, brResTicks, 12, `translate(${rr.x0},0)`, true, 20, 19.5);
ax(d3.axisRight, rr.y, rng(-0.08,0.08,0.01), 6, `translate(${rr.x1},0)`);
ax(d3.axisRight, rr.y, brResTicks, 12, `translate(${rr.x1},0)`);

panels.forEach(frame);

function yTitleI(x, y){
  const t = svg.append("text").attr("transform",`translate(${x},${y}) rotate(-90)`)
    .attr("text-anchor","middle").attr("font-family",FONT).attr("font-size",22).attr("fill","#000");
  t.append("tspan").text("I");
  t.append("tspan").attr("dy",6).attr("font-size",15).text("O4");
  t.append("tspan").attr("dy",-6).text(" (mag)");
}
function yTitleRes(x, y){
  svg.append("text").attr("transform",`translate(${x},${y}) rotate(-90)`)
    .attr("text-anchor","middle").attr("font-family",FONT).attr("font-size",22).attr("fill","#000").text("Res");
}
yTitleI(38, 207); yTitleRes(34, 398);
yTitleI(38, 610); yTitleRes(35, 782);
[[370,886],[945,886]].forEach(([x,y]) => svg.append("text").attr("x",x).attr("y",y)
  .attr("text-anchor","middle").attr("font-family",FONT).attr("font-size",22).attr("fill","#000").text("HJD\u22122450000"));

// model legend
const legLineY = [38, 60, 81, 101];
const legTextY = [37, 59, 81, 103];
const legWidth = [283, 241, 306, 225];
modelNames.forEach((n,i) => {
  svg.append("line").attr("x1",143).attr("x2",205).attr("y1",legLineY[i]).attr("y2",legLineY[i])
    .attr("stroke",modelColors[i]).attr("stroke-width",1.7).attr("stroke-dasharray",modelDash[i] ? "17,11" : null);
  const t = svg.append("text").attr("x",217).attr("y",legTextY[i]).attr("fill",modelColors[i])
    .attr("font-family",FONT).attr("font-size",20)
    .attr("textLength",legWidth[i]).attr("lengthAdjust","spacingAndGlyphs");
  t.append("tspan").text(n + " (\u0394\u03c7");
  t.append("tspan").attr("dy",-10).attr("font-size",14).text("2");
  t.append("tspan").attr("dy",10).text("=" + modelDchi2[i] + ")");
});
datasetNames.forEach((n,i) => {
  const col = i < 10 ? 0 : 1, row = i < 10 ? i : i - 10;
  svg.append("text").attr("x", col ? 993 : 802).attr("y", 40 + row*21)
    .attr("fill", datasetColors[i]).attr("font-family",FONT).attr("font-size",17).text(n);
});
</script>
</body></html>
